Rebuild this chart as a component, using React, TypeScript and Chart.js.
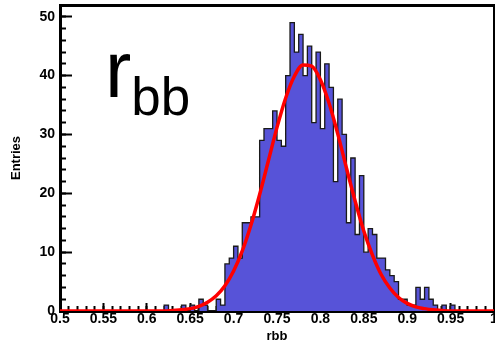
import React, { useEffect, useRef } from 'react';
import Chart from 'chart.js/auto';

// ---- data ----
const BIN_LOW_EDGE = 0.5;
const BIN_WIDTH = 0.005;
// entries per bin, 100 bins from 0.5 to 1.0
const COUNTS = [
  0, 0, 0, 0, 0, 0, 0, 0, 0, 0,
  0, 0, 0, 0, 0, 0, 0, 0, 0, 0,
  0, 0, 0, 0, 1, 0, 0, 0, 1, 0,
  1, 0, 2, 1, 0, 0, 2, 1, 8, 9,
  11, 9, 15, 15, 16, 16, 29, 31, 31, 34,
  29, 28, 40, 49, 44, 47, 40, 45, 32, 44,
  31, 42, 38, 22, 36, 30, 15, 26, 13, 23,
  10, 14, 13, 9, 9, 7, 6, 5, 2, 2,
  1, 1, 4, 2, 4, 2, 1, 0, 1, 0,
  1, 0, 0, 0, 0, 0, 0, 0, 0, 0,
];
// red fit curve, sampled every 0.01 from 0.50 to 1.00
const FIT_X_START = 0.5;
const FIT_STEP = 0.01;
const FIT_VALUES = [
  0, 0, 0, 0, 0, 0, 0, 0, 0, 0,
  0, 0, 0, 0.1, 0.2, 0.4, 0.8, 1.5, 2.6, 4.3,
  6.8, 10.2, 14.6, 19.8, 25.5, 31.2, 36.2, 39.9, 41.8, 41.6,
  39.3, 35.3, 30.1, 24.3, 18.7, 13.6, 9.5, 6.2, 3.9, 2.3,
  1.3, 0.7, 0.4, 0.2, 0.1, 0, 0, 0, 0, 0,
  0,
];
const X_MIN = 0.5;
const X_MAX = 1.0;
const Y_MIN = 0;
const Y_MAX = 52;
const X_TICK_VALUES = [0.5, 0.55, 0.6, 0.65, 0.7, 0.75, 0.8, 0.85, 0.9, 0.95, 1.0];
const X_TICK_LABELS = ['0.5', '0.55', '0.6', '0.65', '0.7', '0.75', '0.8', '0.85', '0.9', '0.95', '1'];
const X_MINOR_STEP = 0.01;
const Y_TICK_VALUES = [0, 10, 20, 30, 40, 50];
const Y_TICK_LABELS = ['0', '10', '20', '30', '40', '50'];
const Y_MINOR_STEP = 2;
const X_TITLE = 'rbb';
const Y_TITLE = 'Entries';
const BIG_LABEL_MAIN = 'r';
const BIG_LABEL_SUB = 'bb';

const FONT = '"Liberation Sans", Arial, Helvetica, sans-serif';

const fixBox = (w?: number, h?: number) => (scale: any) => {
  if (w !== undefined) scale.width = w;
  if (h !== undefined) scale.height = h;
  scale.paddingLeft = 0;
  scale.paddingRight = 0;
  scale.paddingTop = 0;
  scale.paddingBottom = 0;
};

const bigLabelPlugin = {
  id: 'bigLabel',
  afterDraw(chart: any) {
    const ctx = chart.ctx as CanvasRenderingContext2D;
    ctx.save();
    ctx.fillStyle = '#000';
    ctx.textAlign = 'left';
    ctx.textBaseline = 'alphabetic';
    ctx.font = `79px ${FONT}`;
    const x0 = 105;
    ctx.fillText(BIG_LABEL_MAIN, x0, 97);
    const w = ctx.measureText(BIG_LABEL_MAIN).width;
    ctx.font = `53px ${FONT}`;
    ctx.fillText(BIG_LABEL_SUB, x0 + w, 115);
    ctx.restore();
  },
};

export default function App() {
  const ref = useRef<HTMLCanvasElement>(null);

  useEffect(() => {
    const canvas = ref.current;
    if (!canvas) return;

    const histPoints = COUNTS.map((c, i) => ({ x: BIN_LOW_EDGE + i * BIN_WIDTH, y: c }));
    histPoints.push({ x: BIN_LOW_EDGE + COUNTS.length * BIN_WIDTH, y: 0 });
    const fitPoints = FIT_VALUES.map((v, i) => ({ x: FIT_X_START + i * FIT_STEP, y: v }));

    const tickFont = { family: FONT, size: 14, weight: 'bold' as const };
    const titleFont = { family: FONT, size: 13, weight: 'bold' as const, lineHeight: 1 };

    const chart = new Chart(canvas, {
      type: 'line',
      data: {
        datasets: [
          {
            label: 'fit',
            data: fitPoints,
            borderColor: '#ff0000',
            borderWidth: 3.5,
            pointRadius: 0,
            cubicInterpolationMode: 'monotone',
            fill: false,
            order: 0,
            xAxisID: 'x',
            yAxisID: 'y',
          } as any,
          {
            label: 'rbb',
            data: histPoints,
            stepped: 'before',
            borderColor: '#1a1a1a',
            borderWidth: 1.3,
            backgroundColor: '#5753d8',
            fill: 'origin',
            pointRadius: 0,
            order: 1,
            xAxisID: 'x',
            yAxisID: 'y',
          } as any,
        ],
      },
      options: {
        responsive: false,
        maintainAspectRatio: false,
        devicePixelRatio: 1,
        animation: false,
        events: [],
        layout: { padding: { top: 5, right: 1, bottom: 0, left: 0 } },
        plugins: {
          legend: { display: false },
          tooltip: { enabled: false },
        },
        scales: {
          x: {
            type: 'linear',
            position: 'bottom',
            min: X_MIN,
            max: X_MAX,
            afterBuildTicks: (scale: any) => {
              scale.ticks = X_TICK_VALUES.map((v) => ({ value: v }));
            },
            afterFit: fixBox(undefined, 31),
            ticks: {
              autoSkip: false,
              maxRotation: 0,
              minRotation: 0,
              padding: 8,
              color: '#000',
              font: tickFont,
              callback: (_v: any, i: number) => X_TICK_LABELS[i],
            },
            grid: {
              drawOnChartArea: false,
              tickLength: -8,
              tickWidth: 2,
              tickColor: '#000',
            },
            border: { display: true, width: 3, color: '#000' },
            title: {
              display: true,
              text: X_TITLE,
              color: '#000',
              font: titleFont,
              padding: { top: 0, bottom: -1 },
            },
          },
          xMinor: {
            type: 'linear',
            position: { y: 0 },
            min: X_MIN,
            max: X_MAX,
            afterFit: fixBox(),
            ticks: { display: false, stepSize: X_MINOR_STEP },
            grid: {
              drawOnChartArea: false,
              tickLength: -5,
              tickWidth: 2,
              tickColor: '#000',
            },
            border: { display: false },
          },
          xTop: {
            type: 'linear',
            position: 'top',
            min: X_MIN,
            max: X_MAX,
            afterFit: fixBox(undefined, 0),
            ticks: { display: false },
            grid: { drawOnChartArea: false, drawTicks: false },
            border: { display: true, width: 3, color: '#000' },
          },
          y: {
            type: 'linear',
            position: 'left',
            min: Y_MIN,
            max: Y_MAX,
            afterBuildTicks: (scale: any) => {
              scale.ticks = Y_TICK_VALUES.map((v) => ({ value: v }));
            },
            afterFit: fixBox(60),
            ticks: {
              padding: 17,
              color: '#000',
              font: tickFont,
              callback: (_v: any, i: number) => Y_TICK_LABELS[i],
            },
            grid: {
              drawOnChartArea: false,
              tickLength: -12,
              tickWidth: 2,
              tickColor: '#000',
            },
            border: { display: true, width: 3, color: '#000' },
            title: {
              display: true,
              text: Y_TITLE,
              color: '#000',
              font: titleFont,
              padding: { top: 9.5, bottom: 0 },
            },
          },
          yMinor: {
            type: 'linear',
            position: { x: X_MIN },
            min: Y_MIN,
            max: Y_MAX,
            afterFit: fixBox(),
            ticks: { display: false, stepSize: Y_MINOR_STEP },
            grid: {
              drawOnChartArea: false,
              tickLength: -6,
              tickWidth: 2,
              tickColor: '#000',
            },
            border: { display: false },
          },
          yRight: {
            type: 'linear',
            position: 'right',
            min: Y_MIN,
            max: Y_MAX,
            afterFit: fixBox(0),
            ticks: { display: false },
            grid: { drawOnChartArea: false, drawTicks: false },
            border: { display: true, width: 3, color: '#000' },
          },
        } as any,
      },
      plugins: [bigLabelPlugin],
    });

    return () => chart.destroy();
  }, []);

  return (
    <div
      style={{
        position: 'fixed',
        left: 0,
        top: 0,
        width: 495,
        height: 342,
        background: '#fff',
        overflow: 'hidden',
      }}
    >
      <canvas ref={ref} width={495} height={342} style={{ display: 'block', width: 495, height: 342 }} />
    </div>
  );
}
